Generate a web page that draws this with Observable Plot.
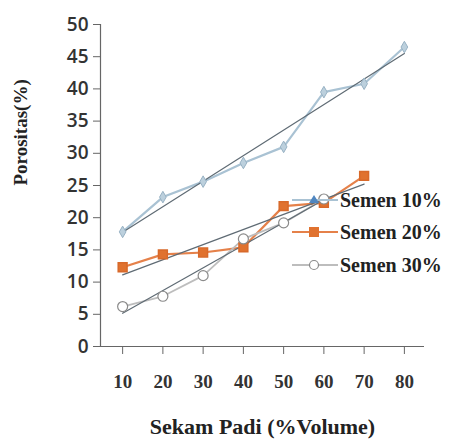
<!DOCTYPE html>
<html><head><meta charset="utf-8">
<script src="https://cdn.jsdelivr.net/npm/d3@7"></script>
<script src="https://cdn.jsdelivr.net/npm/@observablehq/plot@0.6"></script>
<style>
body{margin:0;background:#fff;}
#chart{position:relative;width:454px;height:440px;}
.leg{position:absolute;left:292px;font-family:"Liberation Serif",serif;font-weight:bold;font-size:20px;color:#222;display:flex;align-items:center;height:20px;white-space:nowrap;}
.leg svg{margin-right:2px;}
</style>
</head><body>
<div id="chart"></div>
<script>
const xVals = [10, 20, 30, 40, 50, 60, 70, 80];
const yTicks = [0, 5, 10, 15, 20, 25, 30, 35, 40, 45, 50];
const semen10 = [17.8, 23.2, 25.6, 28.5, 31.0, 39.5, 40.8, 46.5];
const semen20 = [12.3, 14.3, 14.6, 15.4, 21.8, 22.3, 26.5];
const semen30 = [6.2, 7.8, 11.0, 16.7, 19.2, 22.9];
const seriesNames = ["Semen 10%", "Semen 20%", "Semen 30%"];
const xDomain = [4.5, 85];

const d10 = semen10.map((v, i) => ({x: xVals[i], y: v, s: seriesNames[0]}));
const d20 = semen20.map((v, i) => ({x: xVals[i], y: v, s: seriesNames[1]}));
const d30 = semen30.map((v, i) => ({x: xVals[i], y: v, s: seriesNames[2]}));

const trend = "#5f6b74";
const chart = Plot.plot({
  width: 454, height: 440,
  marginLeft: 100, marginRight: 30, marginTop: 24, marginBottom: 94,
  x: {domain: xDomain},
  y: {domain: [0, 50]},
  style: {background: "white", color: "#333"},
  marks: [
    Plot.ruleY([0], {stroke: "#666", strokeWidth: 1.2}),
    Plot.ruleX([xDomain[0]], {y1: 0, y2: 50, stroke: "#666", strokeWidth: 1.2}),
    Plot.axisY({ticks: yTicks, tickSize: 7, tickPadding: 5, fontSize: 19, fontFamily: "Open Sans", fontWeight: 600, label: null, stroke: "#666"}),
    Plot.axisX({ticks: xVals, tickSize: 8, tickPadding: 20, fontSize: 19, fontFamily: "Liberation Serif", fontWeight: "bold", label: null, stroke: "#666"}),
    // series lines
    Plot.line(d10, {x: "x", y: "y", stroke: "#a9c2d3", strokeWidth: 2.2}),
    Plot.line(d20, {x: "x", y: "y", stroke: "#e5814a", strokeWidth: 2.2}),
    Plot.line(d30, {x: "x", y: "y", stroke: "#bdbdbd", strokeWidth: 1.8}),
    // trend lines
    Plot.linearRegressionY(d10, {x: "x", y: "y", stroke: trend, strokeWidth: 1.2, ci: 0}),
    Plot.linearRegressionY(d20, {x: "x", y: "y", stroke: trend, strokeWidth: 1.2, ci: 0}),
    Plot.linearRegressionY(d30, {x: "x", y: "y", stroke: trend, strokeWidth: 1.2, ci: 0}),
    // markers
    Plot.dot(d10, {x: "x", y: "y", symbol: "diamond", r: 3.5, fill: "#bcd0dd", stroke: "#98b2c4", strokeWidth: 1}),
    Plot.dot(d20, {x: "x", y: "y", symbol: "square", r: 5, fill: "#e0722f", stroke: "#d8692a"}),
    Plot.dot(d30, {x: "x", y: "y", symbol: "circle", r: 5, fill: "white", stroke: "#8a8a8a", strokeWidth: 1.2}),
    // titles
    Plot.text(["Sekam Padi (%Volume)"], {frameAnchor: "bottom", dy: 80, lineAnchor: "middle", fontSize: 22, fontFamily: "Liberation Serif", fontWeight: "bold", fill: "#222"}),
    Plot.text(["Porositas(%)"], {frameAnchor: "left", dx: -80, rotate: -90, lineAnchor: "middle", fontSize: 19, fontFamily: "Liberation Serif", fontWeight: "bold", fill: "#222"})
  ]
});
const root = document.getElementById("chart");
root.appendChild(chart);

const legendItems = [
  {name: seriesNames[0], line: "#a9c2d3", sym: '<path d="M22,5 L27,13 L17,13 Z" fill="#4f86c0"/>', top: 190},
  {name: seriesNames[1], line: "#e5814a", sym: '<rect x="17" y="5" width="10" height="10" fill="#e0722f"/>', top: 222},
  {name: seriesNames[2], line: "#bdbdbd", sym: '<circle cx="22" cy="10" r="4.5" fill="white" stroke="#8a8a8a" stroke-width="1.2"/>', top: 255}
];
for (const it of legendItems) {
  const div = document.createElement("div");
  div.className = "leg";
  div.style.top = it.top + "px";
  div.innerHTML = `<svg width="46" height="20"><line x1="0" y1="10" x2="46" y2="10" stroke="${it.line}" stroke-width="2"/>${it.sym}</svg><span>${it.name}</span>`;
  root.appendChild(div);
}
</script>
</body></html>
